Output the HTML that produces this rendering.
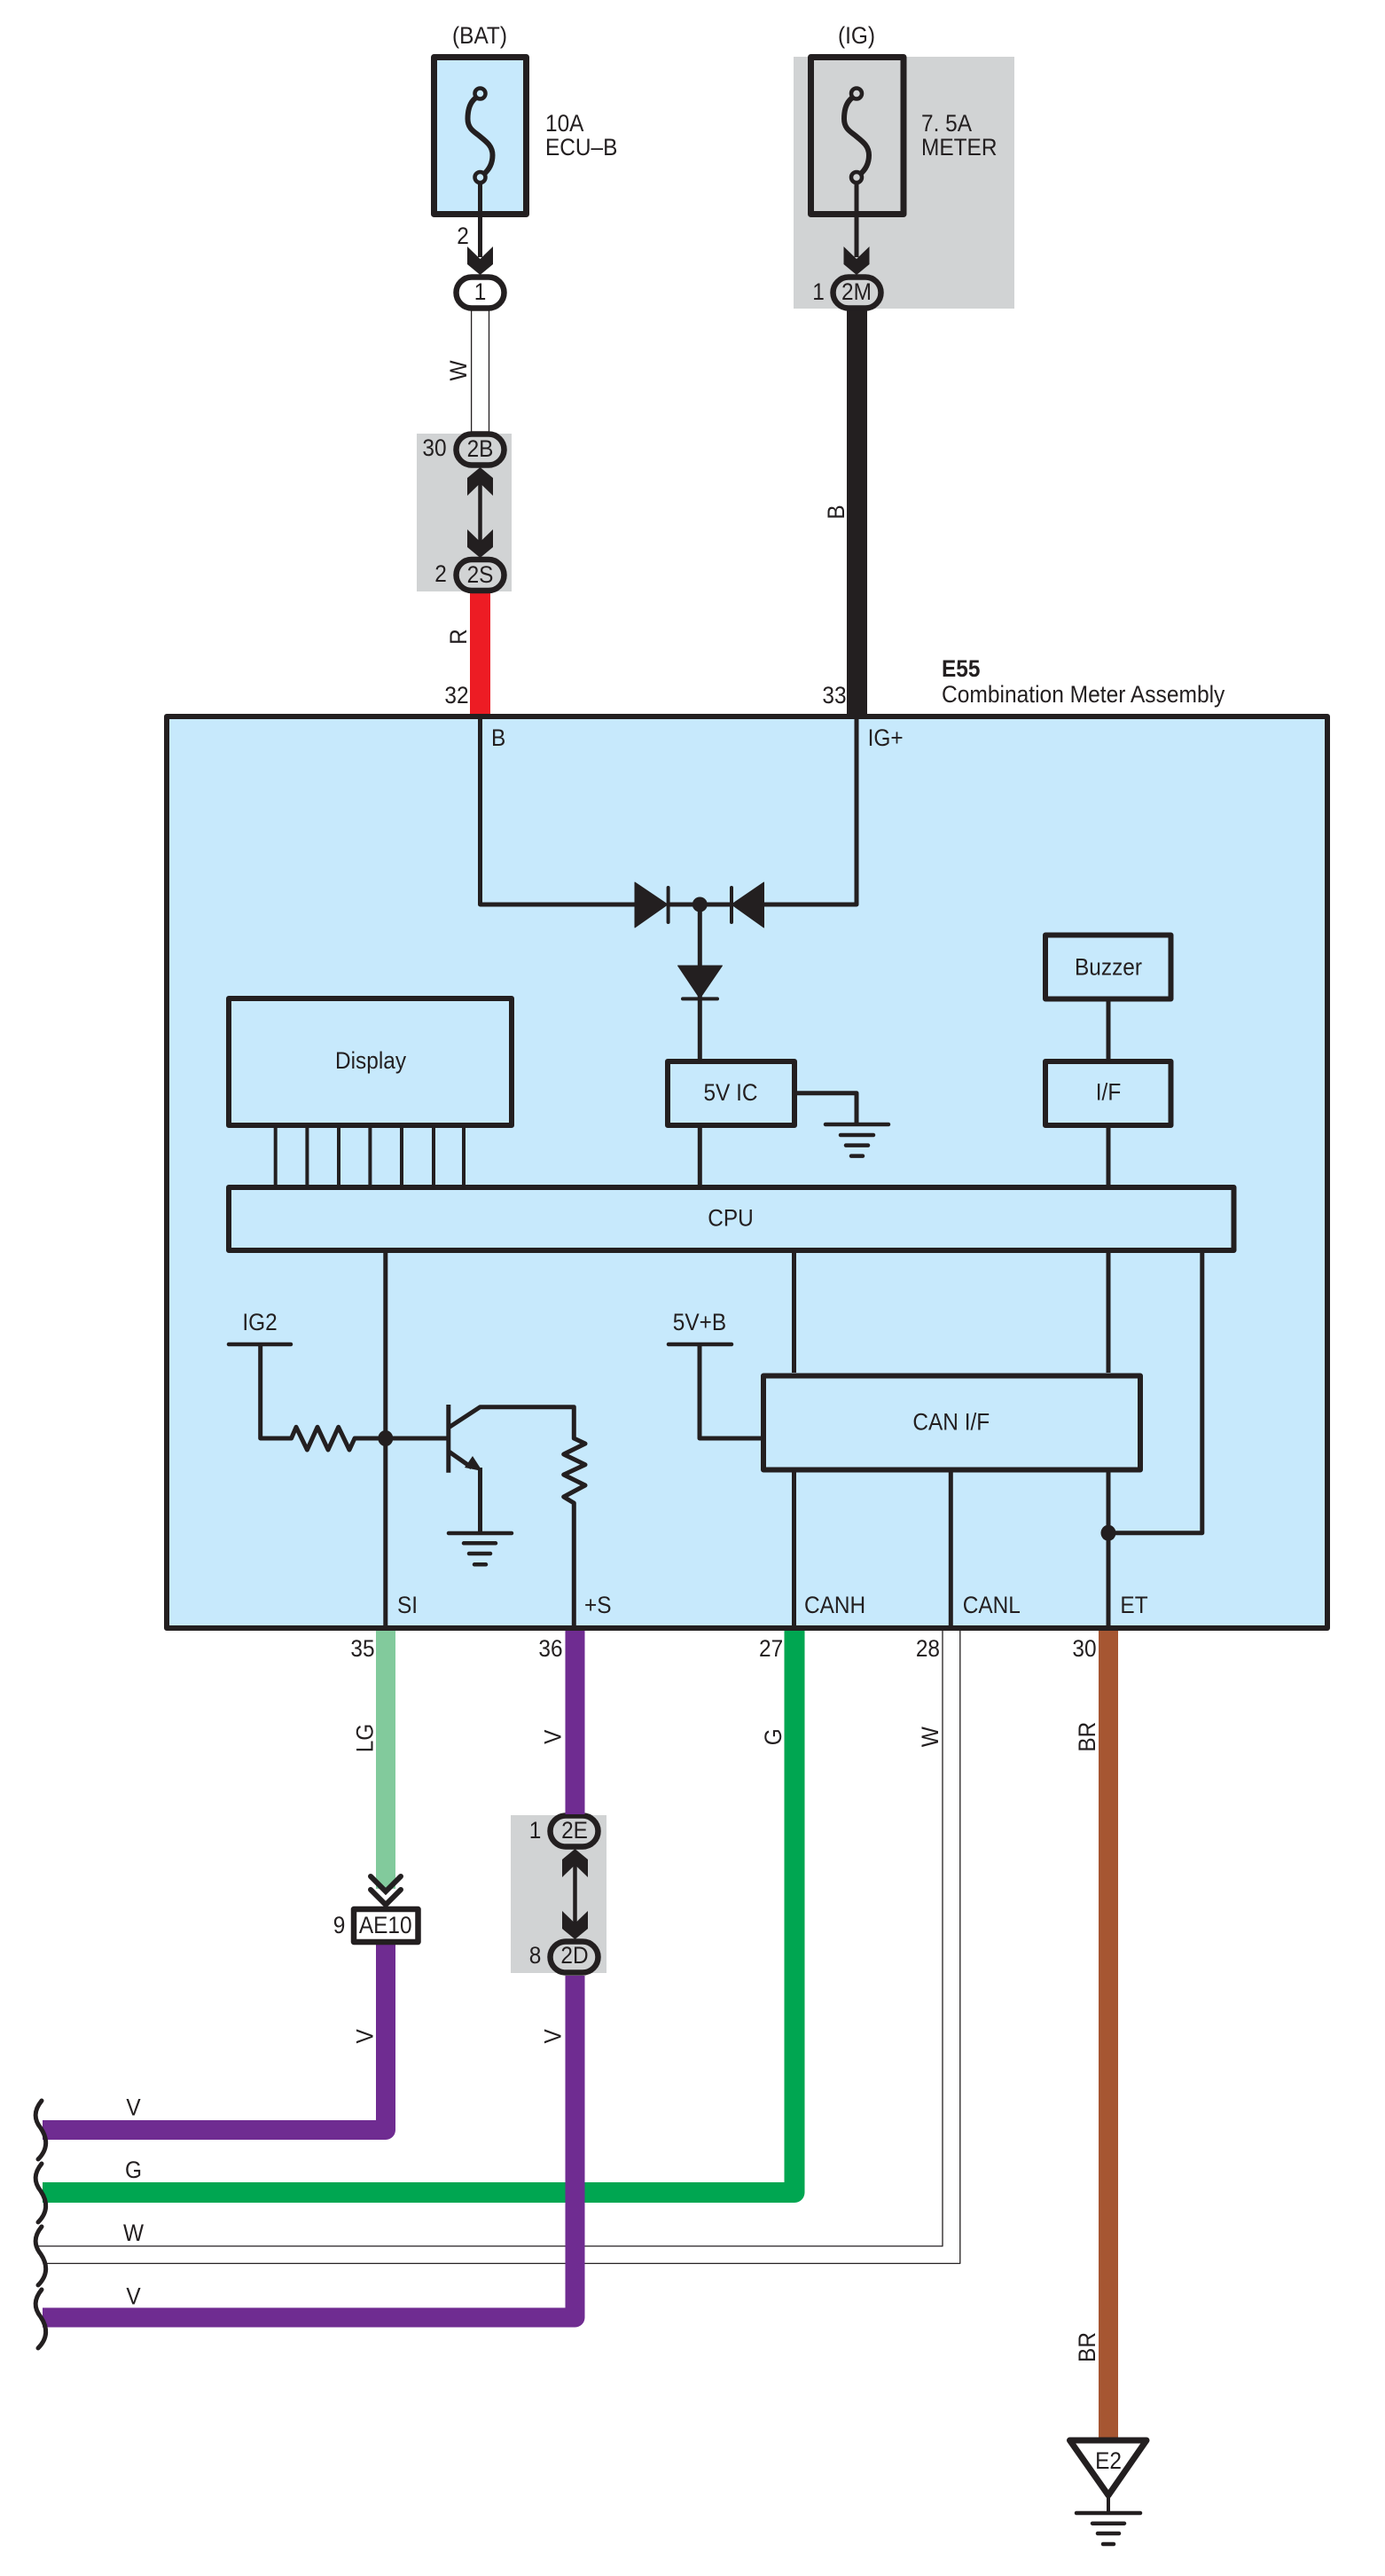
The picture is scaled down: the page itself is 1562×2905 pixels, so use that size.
<!DOCTYPE html>
<html><head><meta charset="utf-8"><style>
html,body{margin:0;padding:0;background:#fff;width:1562px;height:2905px;overflow:hidden}
svg{display:block}
text{font-family:"Liberation Sans",sans-serif;font-size:27px;fill:#231f20}
.m{text-anchor:middle}
</style></head><body>
<svg width="1562" height="2905" viewBox="0 0 1562 2905" xmlns="http://www.w3.org/2000/svg">
<rect width="1562" height="2905" fill="#fff"/>
<!-- gray -->
<g fill="#d1d3d4">
<rect x="895" y="64" width="249" height="284"/>
<rect x="470" y="489" width="107" height="178"/>
<rect x="576" y="2047" width="108" height="178"/>
</g>
<!-- top wires -->
<g fill="none" stroke="#231f20" stroke-width="1.3">
<path d="M531.6,350V490M551.5,350V490"/>
</g>
<rect x="530" y="669" width="23" height="137" fill="#ed1c24"/>
<rect x="955" y="350" width="23" height="456" fill="#231f20"/>
<!-- fuses -->
<g stroke="#231f20" stroke-width="7" stroke-linejoin="round">
<rect x="489.5" y="64.5" width="104" height="177" fill="#c7e9fc"/>
<rect x="914.5" y="64.5" width="104.5" height="177" fill="#d1d3d4"/>
</g>
<g fill="none" stroke="#231f20" stroke-width="6" stroke-linecap="round">
<path d="M537,110C530,115 527.5,124 527.5,134C527.5,146 536,149 541.5,154C549,160 555.5,165 555.5,175C555.5,185 551,192 545,197"/>
<path d="M961.5,110C954.5,115 952,124 952,134C952,146 960.5,149 966,154C973.5,160 980,165 980,175C980,185 975.5,192 969.5,197"/>
</g>
<path d="M541.5,205V290M966,205V290" fill="none" stroke="#231f20" stroke-width="5"/>
<g fill="#c7e9fc" stroke="#231f20" stroke-width="4.5">
<circle cx="541.5" cy="105.5" r="6"/><circle cx="541.5" cy="200" r="6"/>
</g>
<g fill="#d1d3d4" stroke="#231f20" stroke-width="4.5">
<circle cx="966" cy="105.5" r="6"/><circle cx="966" cy="200" r="6"/>
</g>
<!-- arrows -->
<g fill="#231f20">
<polygon points="527,278 541.5,292 556,278 556,298 541.5,310 527,298"/>
<polygon points="951.5,278 966,292 980.5,278 980.5,298 966,310 951.5,298"/>
<polygon points="527,559 541.5,545 556,559 556,539 541.5,527 527,539"/>
<polygon points="527,597 541.5,611 556,597 556,617 541.5,629 527,617"/>
<polygon points="634,2117 648.5,2103 663,2117 663,2097 648.5,2085 634,2097"/>
<polygon points="634,2155 648.5,2169 663,2155 663,2175 648.5,2187 634,2175"/>
</g>
<path d="M541.5,545V611M648.5,2103V2169" stroke="#231f20" stroke-width="4.5" fill="none"/>
<!-- pills -->
<g stroke="#231f20" stroke-width="6.5">
<rect x="514.5" y="312.5" width="54" height="35" rx="17.5" fill="#fff"/>
<rect x="939.5" y="312.5" width="54" height="35" rx="17.5" fill="#d1d3d4"/>
<rect x="514.5" y="489.5" width="54" height="35" rx="17.5" fill="#d1d3d4"/>
<rect x="514.5" y="631" width="54" height="35" rx="17.5" fill="#d1d3d4"/>
<rect x="620.5" y="2047.5" width="54" height="35" rx="17.5" fill="#d1d3d4"/>
<rect x="620.5" y="2189.5" width="54" height="35" rx="17.5" fill="#d1d3d4"/>
</g>
<!-- main box -->
<rect x="188" y="808" width="1309" height="1028" fill="#c7e9fc" stroke="#231f20" stroke-width="6" stroke-linejoin="round"/>
<!-- inner lines -->
<g fill="none" stroke="#231f20" stroke-width="5" stroke-linejoin="round">
<path d="M541.5,811V1020H720M753,1020H825M862,1020H966V811"/>
<path d="M789.3,1020V1195M789.3,1271V1338"/>
<path d="M896,1232.7H966V1268"/>
<path d="M1250,1129V1194M1250,1271V1337M1250,1413V1548M1250,1660V1836"/>
<path d="M895.5,1413V1548M895.5,1660V1836M1072.3,1660V1836"/>
<path d="M1355.8,1413V1728.7H1250"/>
<path d="M293.7,1516V1622H328.6L334,1609.3L346.4,1635L358,1609.3L370,1635L381.7,1609.3L394,1635L400,1622H505.8"/>
<path d="M434.8,1413V1836"/>
<path d="M505.8,1610L541.5,1586.7H647.3V1622L660,1628L635.7,1640L660,1651.7L635.7,1663L660,1675L635.7,1688L647.3,1695V1836"/>
<path d="M505.8,1636.7L532,1655M541.5,1655V1729"/>
<path d="M789,1516V1622H861"/>
</g>
<path d="M505.8,1584V1660.7" stroke="#231f20" stroke-width="5" fill="none"/>
<polygon points="533,1642 544,1659 524,1655" fill="#231f20"/>
<g stroke="#231f20" stroke-width="4" fill="none">
<path d="M310.7,1270V1338M346.4,1270V1338M382,1270V1338M417.4,1270V1338M453,1270V1338M489,1270V1338M523,1270V1338"/>
</g>
<!-- boxes -->
<g fill="#c7e9fc" stroke="#231f20" stroke-width="6" stroke-linejoin="round">
<rect x="258" y="1126" width="319" height="143"/>
<rect x="753" y="1197" width="143" height="72"/>
<rect x="1179" y="1054.5" width="141.5" height="72"/>
<rect x="1179" y="1197" width="141.5" height="72"/>
<rect x="258" y="1339" width="1133.5" height="71"/>
<rect x="861" y="1551.5" width="425" height="106"/>
</g>
<!-- diodes -->
<g fill="#231f20" stroke="#231f20" stroke-linejoin="round" stroke-width="1">
<polygon points="716,995 753,1020 716,1046"/>
<polygon points="861.5,995 825,1020 861.5,1046"/>
<polygon points="764.5,1089 814.5,1089 789.3,1126"/>
</g>
<g stroke="#231f20" stroke-width="4" stroke-linecap="round" fill="none">
<path d="M753.6,1001V1040M825,1001V1040M770,1126.4H809"/>
</g>
<circle cx="789.3" cy="1020" r="8.5" fill="#231f20"/>
<ellipse cx="434.8" cy="1622" rx="8.5" ry="9" fill="#231f20"/>
<ellipse cx="1250" cy="1728.7" rx="8.5" ry="9" fill="#231f20"/>
<!-- grounds, bars -->
<g stroke="#231f20" stroke-width="4.5" stroke-linecap="round" fill="none">
<path d="M931,1268H1002M948,1280H985M954,1291.6H979M960,1303.6H973"/>
<path d="M506,1729H577M523,1740.3H559M529,1752H553M535,1764.3H548"/>
<path d="M258,1516H328M754,1516H825"/>
<path d="M1214,2834H1286M1232,2845.7H1268M1238,2857H1262M1244,2869H1256"/>
</g>
<!-- lower wires -->
<g fill="none" stroke-linejoin="round">
<path d="M435,1839V2130" stroke="#82ca9c" stroke-width="22"/>
<path d="M1250,1839V2749" stroke="#a65632" stroke-width="22"/>
<path d="M896,1839V2472.5H48" stroke="#00a651" stroke-width="23"/>
<path d="M1063,1839V2533H43M1082.8,1839V2552.5H53" stroke="#231f20" stroke-width="1.3"/>
<path d="M435,2193V2402H48" stroke="#6f2c91" stroke-width="22"/>
<path d="M648.5,1839V2046M648.5,2228V2613.5H48" stroke="#6f2c91" stroke-width="22"/>
</g>
<polygon points="424,2125 435,2137 446,2125 446,2100 424,2100" fill="#82ca9c"/>
<!-- chevrons + AE10 -->
<path d="M418,2116L435,2133L452,2116M418,2131L435,2148L452,2131" fill="none" stroke="#231f20" stroke-width="6" stroke-linecap="round"/>
<rect x="399" y="2153" width="72.5" height="37" fill="#fff" stroke="#231f20" stroke-width="6.5" stroke-linejoin="round"/>
<!-- squiggles -->
<g fill="none" stroke="#231f20" stroke-width="5" stroke-linecap="round">
<path d="M47,2369C38,2380 38,2390 46,2400C54,2412 54,2424 43,2435"/>
<path d="M47,2440C38,2451 38,2461 46,2471C54,2483 54,2495 43,2506"/>
<path d="M47,2511C38,2522 38,2532 46,2542C54,2554 54,2566 43,2577"/>
<path d="M47,2582C38,2593 38,2603 46,2613C54,2625 54,2637 43,2648"/>
</g>
<!-- E2 -->
<path d="M1250,2815V2834" stroke="#231f20" stroke-width="4"/>
<path d="M1206.5,2752H1293L1250,2814Z" fill="#fff" stroke="#231f20" stroke-width="7" stroke-linejoin="round"/>
<!-- text -->
<text class="m" transform="translate(541,49) scale(.905,1)">(BAT)</text>
<text class="m" transform="translate(966,49) scale(.905,1)">(IG)</text>
<text transform="translate(615,148) scale(.905,1)">10A</text>
<text transform="translate(615,175) scale(.905,1)">ECU–B</text>
<text transform="translate(1039,148) scale(.905,1)">7. 5A</text>
<text transform="translate(1039,175) scale(.905,1)">METER</text>
<text class="m" transform="translate(522,275) scale(.905,1)">2</text>
<text class="m" transform="translate(541.5,338) scale(.905,1)">1</text>
<text class="m" transform="translate(923,338) scale(.905,1)">1</text>
<text class="m" transform="translate(966,338) scale(.905,1)">2M</text>
<text class="m" transform="translate(490,514) scale(.905,1)">30</text>
<text class="m" transform="translate(541.5,515) scale(.905,1)">2B</text>
<text class="m" transform="translate(497,656) scale(.905,1)">2</text>
<text class="m" transform="translate(541.5,657) scale(.905,1)">2S</text>
<text class="m" transform="translate(515,793) scale(.905,1)">32</text>
<text class="m" transform="translate(941,793) scale(.905,1)">33</text>
<text font-weight="bold" transform="translate(1062,763) scale(.905,1)">E55</text>
<text transform="translate(1062,792) scale(.91,1)">Combination Meter Assembly</text>
<text transform="translate(554,841) scale(.905,1)">B</text>
<text transform="translate(978.6,841) scale(.905,1)">IG+</text>
<text class="m" transform="translate(418,1205) scale(.905,1)">Display</text>
<text class="m" transform="translate(824,1241) scale(.905,1)">5V IC</text>
<text class="m" transform="translate(1250,1099.6) scale(.905,1)">Buzzer</text>
<text class="m" transform="translate(1250,1240.7) scale(.905,1)">I/F</text>
<text class="m" transform="translate(824,1382.6) scale(.905,1)">CPU</text>
<text class="m" transform="translate(293,1500) scale(.905,1)">IG2</text>
<text class="m" transform="translate(789,1500) scale(.905,1)">5V+B</text>
<text class="m" transform="translate(1072.8,1612.7) scale(.905,1)">CAN I/F</text>
<text transform="translate(448,1819) scale(.905,1)">SI</text>
<text transform="translate(659,1819) scale(.905,1)">+S</text>
<text transform="translate(907,1819) scale(.905,1)">CANH</text>
<text transform="translate(1085.7,1819) scale(.905,1)">CANL</text>
<text transform="translate(1263.4,1819) scale(.905,1)">ET</text>
<text class="m" transform="translate(409,1868) scale(.905,1)">35</text>
<text class="m" transform="translate(621,1868) scale(.905,1)">36</text>
<text class="m" transform="translate(869.6,1868) scale(.905,1)">27</text>
<text class="m" transform="translate(1046.4,1868) scale(.905,1)">28</text>
<text class="m" transform="translate(1223,1868) scale(.905,1)">30</text>
<text class="m" transform="translate(434.7,2180) scale(.905,1)">AE10</text>
<text class="m" transform="translate(382.6,2180) scale(.905,1)">9</text>
<text class="m" transform="translate(603.6,2073) scale(.905,1)">1</text>
<text class="m" transform="translate(603.6,2214) scale(.905,1)">8</text>
<text class="m" transform="translate(648,2073) scale(.905,1)">2E</text>
<text class="m" transform="translate(648,2214) scale(.905,1)">2D</text>
<text class="m" transform="translate(150.5,2385.7) scale(.905,1)">V</text>
<text class="m" transform="translate(150.5,2456) scale(.905,1)">G</text>
<text class="m" transform="translate(150.5,2527) scale(.905,1)">W</text>
<text class="m" transform="translate(150.5,2598.5) scale(.905,1)">V</text>
<text class="m" transform="translate(1250,2784) scale(.905,1)">E2</text>
<!-- rotated -->
<text class="m" transform="translate(526,418) rotate(-90) scale(.905,1)">W</text>
<text class="m" transform="translate(526,718) rotate(-90) scale(.905,1)">R</text>
<text class="m" transform="translate(952,577.5) rotate(-90) scale(.905,1)">B</text>
<text class="m" transform="translate(420.4,1960) rotate(-90) scale(.905,1)">LG</text>
<text class="m" transform="translate(632.6,1958.7) rotate(-90) scale(.905,1)">V</text>
<text class="m" transform="translate(881,1958.7) rotate(-90) scale(.905,1)">G</text>
<text class="m" transform="translate(1058,1958.7) rotate(-90) scale(.905,1)">W</text>
<text class="m" transform="translate(1235,1958.7) rotate(-90) scale(.905,1)">BR</text>
<text class="m" transform="translate(420.4,2296.4) rotate(-90) scale(.905,1)">V</text>
<text class="m" transform="translate(632.6,2296.4) rotate(-90) scale(.905,1)">V</text>
<text class="m" transform="translate(1235,2647) rotate(-90) scale(.905,1)">BR</text>
</svg>
</body></html>
